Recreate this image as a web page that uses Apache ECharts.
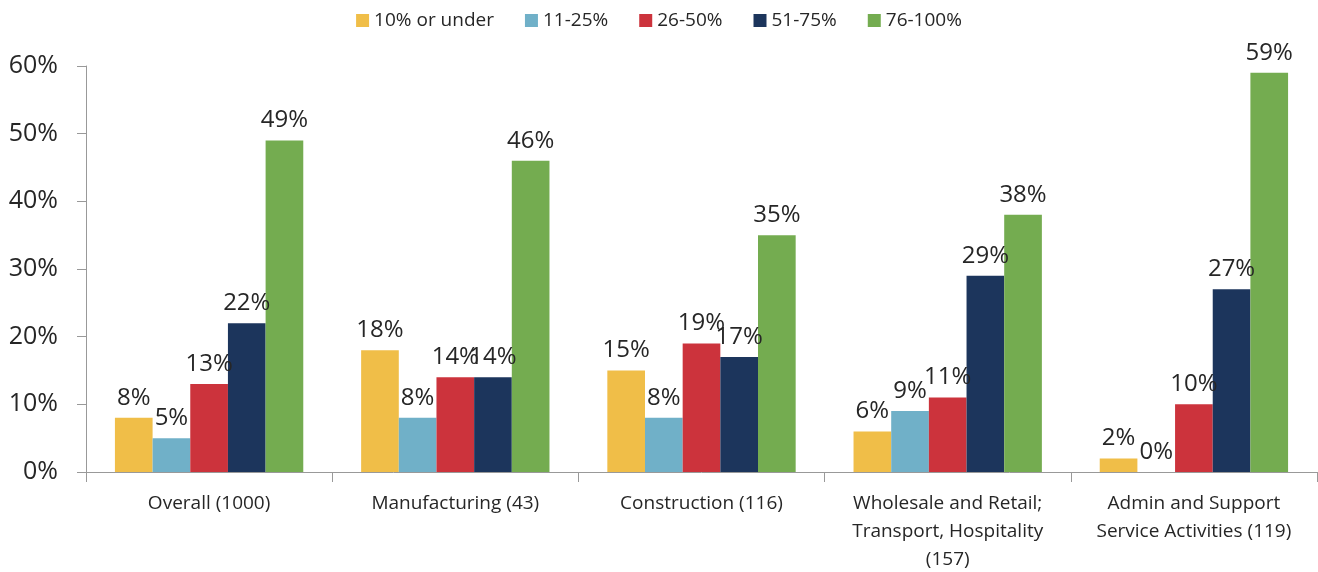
<!DOCTYPE html>
<html>
<head>
<meta charset="utf-8">
<script src="https://cdn.jsdelivr.net/npm/echarts@6/dist/echarts.min.js"></script>
<style>
  html, body { margin: 0; padding: 0; background: #fff; }
  #chart { width: 1318px; height: 572px; }
</style>
</head>
<body>
<div id="chart"></div>
<script>
const categories = [
    'Overall (1000)',
    'Manufacturing (43)',
    'Construction (116)',
    'Wholesale and Retail;\nTransport, Hospitality\n(157)',
    'Admin and Support\nService Activities (119)'
];
const seriesNames = ['10% or under', '11-25%', '26-50%', '51-75%', '76-100%'];
const under10 = [8, 18, 15, 6, 2];
const from11to25 = [5, 8, 8, 9, 0];
const from26to50 = [13, 14, 19, 11, 10];
const from51to75 = [22, 14, 17, 29, 27];
const from76to100 = [49, 46, 35, 38, 59];
const colors = ['#f0be48', '#70b0c8', '#cc333c', '#1c355c', '#74ac50'];
const yTicks = [0, 10, 20, 30, 40, 50, 60];

const font = '"Open Sans", "Noto Sans", sans-serif';
const chart = echarts.init(document.getElementById('chart'));

const allData = [under10, from11to25, from26to50, from51to75, from76to100];

chart.setOption({
    animation: false,
    textStyle: { fontFamily: font },
    color: colors,
    legend: {
        top: 6,
        left: 'center',
        itemWidth: 13,
        itemHeight: 13,
        itemGap: 31,
        icon: 'rect',
        textStyle: { fontSize: 19, color: '#262626', fontFamily: font },
        data: seriesNames
    },
    grid: { left: 86, right: 1, top: 66, bottom: 100, outerBoundsMode: 'none' },
    xAxis: {
        type: 'category',
        data: categories,
        axisLine: { lineStyle: { color: '#999' } },
        axisTick: { show: true, length: 10, lineStyle: { color: '#999' } },
        axisLabel: { color: '#262626', fontSize: 19, lineHeight: 28, margin: 18, interval: 0 }
    },
    yAxis: {
        type: 'value',
        min: yTicks[0],
        max: yTicks[yTicks.length - 1],
        interval: 10,
        axisLine: { show: true, lineStyle: { color: '#999' } },
        axisTick: { show: true, length: 9, lineStyle: { color: '#999' } },
        splitLine: { show: false },
        axisLabel: { color: '#262626', fontSize: 25, margin: 28, formatter: '{value}%' }
    },
    series: seriesNames.map((name, i) => ({
        name: name,
        type: 'bar',
        data: allData[i],
        barGap: '0%',
        barCategoryGap: '23.5%',
        itemStyle: { color: colors[i] },
        label: {
            show: true,
            position: 'top',
            distance: 8,
            fontSize: 24,
            color: '#262626',
            formatter: '{c}%'
        }
    }))
});
</script>
</body>
</html>
